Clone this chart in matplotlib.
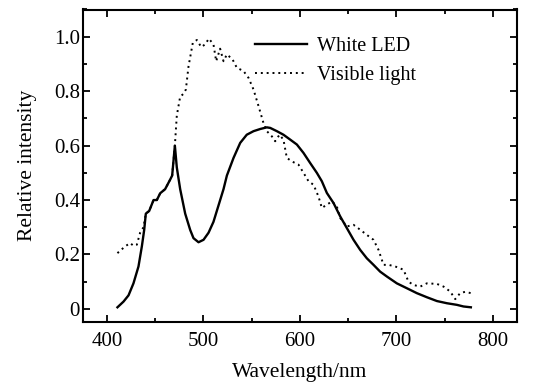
import matplotlib.pyplot as plt
from matplotlib.ticker import MultipleLocator, FuncFormatter

plt.rcParams['font.family'] = ['Liberation Serif', 'DejaVu Serif']

# White LED spectrum (solid)
led_wl = [411, 417.3, 422.5, 427.6, 432.8, 436.3, 438.7, 440.4, 443.9, 448.4,
          451.8, 455.3, 460.4, 465.6, 467.7, 470.5, 472.5, 476, 481.2, 486.4,
          489.8, 495, 500.2, 505.4, 510.5, 515.7, 520.9, 524.4, 531.3, 538.2,
          545, 552, 558.9, 565.8, 569.3, 576.2, 583, 590, 596.9, 603.8,
          610.7, 617.6, 622.8, 628, 634.9, 641.8, 648.7, 655.6, 662.5, 669.4,
          676.3, 683.2, 690.2, 700.5, 710.9, 721.2, 731.6, 742, 752.3, 762.7,
          769.6, 777.2]
led_int = [0.006, 0.027, 0.05, 0.094, 0.156, 0.23, 0.29, 0.35, 0.36, 0.40,
           0.40, 0.425, 0.44, 0.475, 0.49, 0.60, 0.52, 0.44, 0.35, 0.29,
           0.26, 0.245, 0.254, 0.28, 0.32, 0.38, 0.44, 0.49, 0.555, 0.61,
           0.64, 0.653, 0.661, 0.667, 0.665, 0.653, 0.64, 0.622, 0.604, 0.573,
           0.536, 0.50, 0.469, 0.426, 0.389, 0.34, 0.297, 0.254, 0.217, 0.186,
           0.162, 0.137, 0.119, 0.094, 0.076, 0.058, 0.043, 0.029, 0.021, 0.015,
           0.009, 0.006]

# Visible light spectrum (dotted)
vis_wl = [411, 419, 424.2, 427.6, 431.1, 434.5, 438, 440.4, 443.9, 448.4,
          451.8, 455.3, 460.4, 465.6, 467.7, 470.5, 472.5, 476, 479.4, 481.9,
          484.6, 489.1, 493.3, 497.8, 501.9, 505.7, 510.5, 513.3, 517.4, 520.9,
          524.4, 530.2, 534.7, 541.6, 546.8, 552, 557.2, 562.3, 565.8, 571,
          574.4, 578.9, 583, 586.5, 591.7, 598.6, 603.8, 609, 614.2, 619.3,
          622.8, 628, 633.2, 638.3, 641.8, 648.7, 655.6, 662.5, 669.4, 676.3,
          681.5, 686.7, 691.9, 698.8, 707.4, 712.6, 717.8, 724.7, 731.6, 742,
          748.9, 755.8, 761, 766.1, 771.3, 777.2]
vis_int = [0.205, 0.23, 0.242, 0.232, 0.236, 0.28, 0.30, 0.35, 0.36, 0.40,
           0.40, 0.425, 0.44, 0.475, 0.49, 0.60, 0.71, 0.78, 0.79, 0.806,
           0.89, 0.978, 0.988, 0.962, 0.972, 0.993, 0.972, 0.91, 0.956, 0.91,
           0.935, 0.917, 0.886, 0.874, 0.849, 0.806, 0.745, 0.683, 0.653, 0.634,
           0.616, 0.64, 0.622, 0.555, 0.542, 0.53, 0.50, 0.469, 0.456, 0.413,
           0.371, 0.383, 0.395, 0.377, 0.334, 0.303, 0.309, 0.291, 0.272, 0.254,
           0.217, 0.162, 0.162, 0.156, 0.144, 0.10, 0.088, 0.082, 0.094, 0.092,
           0.082, 0.064, 0.036, 0.058, 0.063, 0.058]

fig = plt.figure(figsize=(5.45, 3.83), dpi=100)
ax = fig.add_axes([82.7 / 545, 1 - 322 / 383, (517 - 82.7) / 545, (322 - 9.5) / 383])

ax.plot(led_wl, led_int, color='black', lw=1.7, label='White LED')
ax.plot(vis_wl, vis_int, color='black', lw=1.4, ls=(0, (1, 2)), label='Visible light')

ax.set_xlim(375, 825)
ax.set_ylim(-0.048, 1.1)
ax.xaxis.set_major_locator(MultipleLocator(100))
ax.xaxis.set_minor_locator(MultipleLocator(50))
ax.yaxis.set_major_locator(MultipleLocator(0.2))
ax.yaxis.set_minor_locator(MultipleLocator(0.1))
ax.yaxis.set_major_formatter(FuncFormatter(lambda v, p: '0' if abs(v) < 1e-9 else f'{v:.1f}'))

ax.tick_params(which='both', direction='in', top=True, right=True, labelsize=15, width=1.3)
ax.tick_params(axis='y', pad=2)
ax.tick_params(axis='x', pad=7)
ax.tick_params(which='major', length=5)
ax.tick_params(which='minor', length=3)
for s in ax.spines.values():
    s.set_linewidth(1.5)

ax.set_xlabel('Wavelength/nm', fontsize=15.5, labelpad=9)
ax.set_ylabel('Relative intensity', fontsize=15.5, labelpad=12)

ax.legend(loc='upper left', bbox_to_anchor=(0.355, 0.97), frameon=False, fontsize=14.5,
          handlelength=2.6, labelspacing=0.5, handletextpad=0.5)

fig.savefig('out.png', dpi=100)
